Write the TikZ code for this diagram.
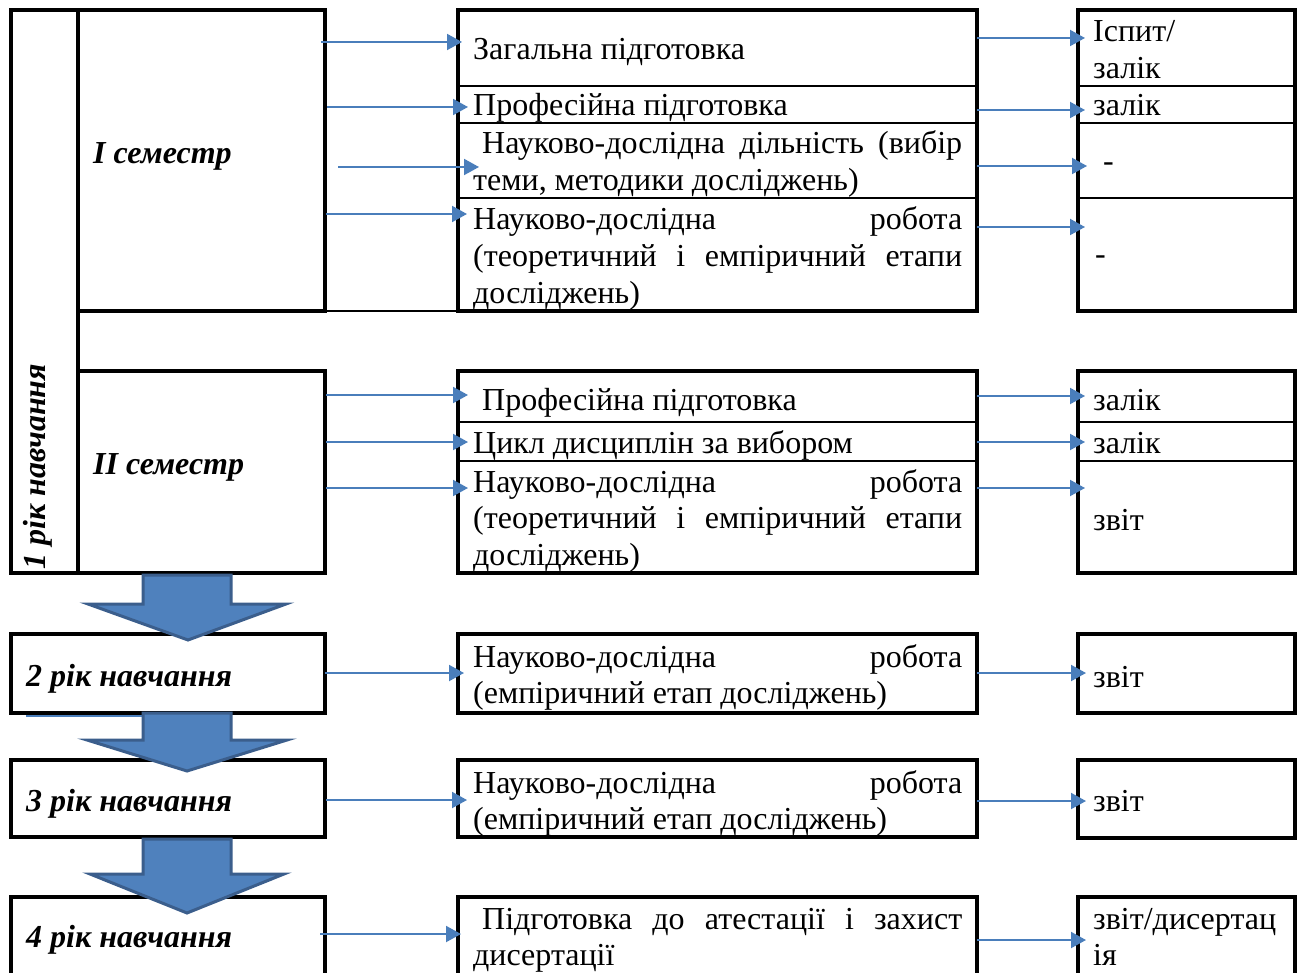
\documentclass[tikz,border=0pt]{standalone}
\usepackage{fontspec}
\setmainfont{Liberation Serif}
\usetikzlibrary{arrows.meta}
\definecolor{arrblue}{HTML}{4A7EBB}
\definecolor{blkfill}{HTML}{4F81BD}
\definecolor{blkdraw}{HTML}{3B5E8C}
\hyphenpenalty=10000
\exhyphenpenalty=10000
\begin{document}
\begin{tikzpicture}[x=1pt,y=-1pt,
  box/.style={line width=3.5pt},
  div/.style={line width=2.2pt},
  arr/.style={draw=arrblue,line width=2pt,-{Triangle[length=15pt,width=16pt]}},
  txt/.style={anchor=base west,inner sep=0pt,font=\fontsize{32}{36.8}\selectfont},
  mtxt/.style={txt,text width=489pt,align=justify},
  rtxt/.style={txt,text width=200pt,align=left},
  btxt/.style={anchor=base west,inner sep=0pt,font=\fontsize{32}{36.8}\selectfont\bfseries\itshape},
  blk/.style={fill=blkfill,draw=blkdraw,line width=3pt,line join=miter}
]
\useasboundingbox (0,0) rectangle (1305,973);
\clip (0,0) rectangle (1305,973);

% ---------- year 1 ----------
\draw[box] (11,10) rectangle (78,573);
\draw[box] (78,10) rectangle (325,311);
\draw[box] (78,371) rectangle (325,573);
\draw[line width=1.5pt] (325,311) -- (458,311);

\draw[box] (458,10) rectangle (977,311);
\foreach \y in {86,123,198} \draw[div] (458,\y) -- (977,\y);
\draw[box] (1078,10) rectangle (1295,311);
\foreach \y in {86,123,198} \draw[div] (1078,\y) -- (1295,\y);

\draw[box] (458,371) rectangle (977,573);
\foreach \y in {422,461} \draw[div] (458,\y) -- (977,\y);
\draw[box] (1078,371) rectangle (1295,573);
\foreach \y in {422,461} \draw[div] (1078,\y) -- (1295,\y);

% ---------- years 2-4 ----------
\draw[box] (11,634) rectangle (325,713);
\draw[box] (458,634) rectangle (977,713);
\draw[box] (1078,634) rectangle (1295,713);
\draw[box] (11,760) rectangle (325,837);
\draw[box] (458,760) rectangle (977,837);
\draw[box] (1078,760) rectangle (1295,838);
\draw[box] (11,897) rectangle (325,995);
\draw[box] (458,897) rectangle (977,995);
\draw[box] (1078,897) rectangle (1295,995);

% ---------- texts ----------
\node[btxt,rotate=90] (y1) at (45,570) {1 рік навчання};
\node[btxt] (s1) at (93,164) {I семестр};
\node[btxt] (s2) at (93,474) {II семестр};
\node[btxt] (y2) at (26,686) {2 рік навчання};
\node[btxt] (y3) at (26,811) {3 рік навчання};
\node[btxt] (y4) at (26,947) {4 рік навчання};

\node[mtxt] (m1) at (473,60) {Загальна підготовка};
\node[mtxt] (m2) at (473,116) {Професійна підготовка};
\node[mtxt] (m3) at (473,154) {\hspace*{9pt}Науково-дослідна дільність (вибір\linebreak теми, методики досліджень)};
\node[mtxt] (m4) at (473,230) {Науково-дослідна робота\linebreak (теоретичний і емпіричний етапи\linebreak досліджень)};
\node[mtxt] (m5) at (473,410) {\hspace*{9pt}Професійна підготовка};
\node[mtxt] (m6) at (473,453) {Цикл дисциплін за вибором};
\node[mtxt] (m7) at (473,492) {Науково-дослідна робота\linebreak (теоретичний і емпіричний етапи\linebreak досліджень)};
\node[mtxt] (m8) at (473,667) {Науково-дослідна робота\linebreak (емпіричний етап досліджень)};
\node[mtxt] (m9) at (473,793) {Науково-дослідна робота\linebreak (емпіричний етап досліджень)};
\node[mtxt] (m10) at (473,929) {\hspace*{9pt}Підготовка до атестації і захист\linebreak дисертації};

\node[rtxt] (r1) at (1093,42) {Іспит/\\залік};
\node[rtxt] (r2) at (1093,116) {залік};
\node[rtxt] (r3) at (1103,172) {-};
\node[rtxt] (r4) at (1095,265) {-};
\node[rtxt] (r5) at (1093,410) {залік};
\node[rtxt] (r6) at (1093,453) {залік};
\node[rtxt] (r7) at (1093,530) {звіт};
\node[rtxt] (r8) at (1093,687) {звіт};
\node[rtxt] (r9) at (1093,811) {звіт};
\node[rtxt] (r10) at (1093,929) {звіт/дисертац\\ія};

% ---------- connector end points ----------
\coordinate (a1s) at (321,42);  \coordinate (a1e) at (462,42);
\coordinate (a2s) at (327,107); \coordinate (a2e) at (468,107);
\coordinate (a3s) at (338,167); \coordinate (a3e) at (479,167);
\coordinate (a4s) at (326,214); \coordinate (a4e) at (467,214);
\coordinate (a5s) at (326,395); \coordinate (a5e) at (468,395);
\coordinate (a6s) at (326,442); \coordinate (a6e) at (468,442);
\coordinate (a7s) at (326,488); \coordinate (a7e) at (468,488);
\coordinate (a8s) at (325,673); \coordinate (a8e) at (464,673);
\coordinate (a9s) at (326,800); \coordinate (a9e) at (467,800);
\coordinate (a10s) at (320,934); \coordinate (a10e) at (461,934);

\coordinate (b1s) at (977,38);  \coordinate (b1e) at (1085,38);
\coordinate (b2s) at (977,110); \coordinate (b2e) at (1085,110);
\coordinate (b3s) at (977,166); \coordinate (b3e) at (1087,166);
\coordinate (b4s) at (977,227); \coordinate (b4e) at (1085,227);
\coordinate (b5s) at (977,396); \coordinate (b5e) at (1085,396);
\coordinate (b6s) at (977,442); \coordinate (b6e) at (1085,442);
\coordinate (b7s) at (977,488); \coordinate (b7e) at (1085,488);
\coordinate (b8s) at (977,673); \coordinate (b8e) at (1086,673);
\coordinate (b9s) at (977,801); \coordinate (b9e) at (1086,801);
\coordinate (b10s) at (977,940); \coordinate (b10e) at (1086,940);

\foreach \i in {1,...,10} {
  \draw[arr] (a\i s) -- (a\i e);
  \draw[arr] (b\i s) -- (b\i e);
}

\coordinate (ls) at (26,716); \coordinate (le) at (143,716);
\draw[arrblue,line width=1.5pt] (ls) -- (le);

% ---------- block arrows ----------
\draw[blk] (143,575) -- (231,575) -- (231,604) -- (286,604) -- (188,640) -- (88,604) -- (143,604) -- cycle;
\draw[blk] (143,713) -- (231,713) -- (231,740) -- (287,740) -- (187,771) -- (87,740) -- (143,740) -- cycle;
\draw[blk] (143,839) -- (231,839) -- (231,874) -- (284,874) -- (187,913) -- (90,874) -- (143,874) -- cycle;
\end{tikzpicture}
\end{document}
